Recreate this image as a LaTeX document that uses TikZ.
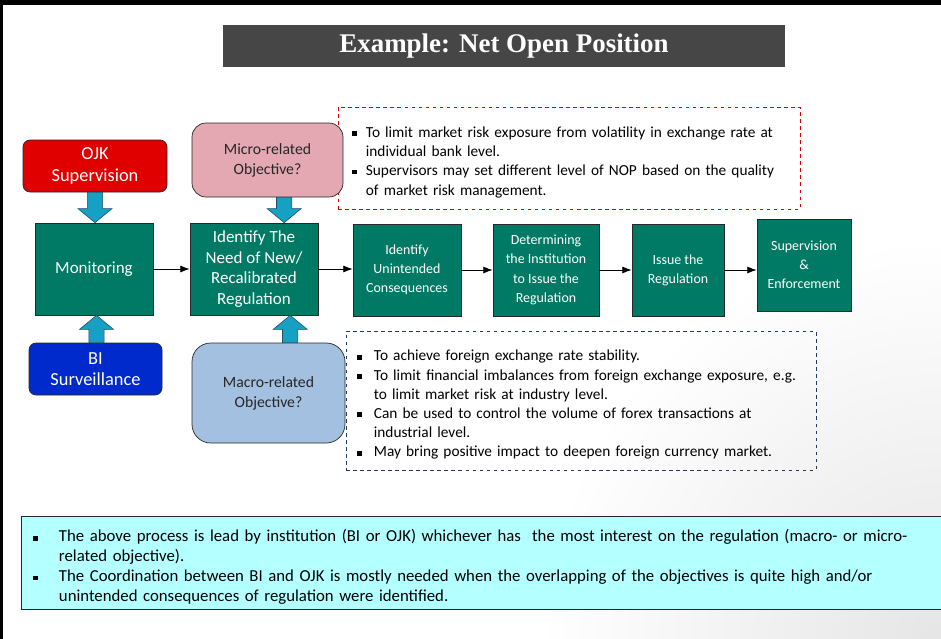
\documentclass[tikz,border=0pt]{standalone}
\usepackage{fontspec}
\setmainfont{Carlito}
\newfontfamily\titlefont{Liberation Serif}
\usepackage{tikz}
\usetikzlibrary{arrows.meta, positioning, calc}
\definecolor{mygreen}{RGB}{0,122,100}
\definecolor{myred}{RGB}{224,0,0}
\definecolor{myblue}{RGB}{0,42,204}
\definecolor{mypink}{RGB}{228,168,178}
\definecolor{mysky}{RGB}{164,192,225}
\definecolor{myteal}{RGB}{22,160,196}
\definecolor{mynavy}{RGB}{31,56,100}
\definecolor{mycyan}{RGB}{180,255,255}
\definecolor{titlegray}{RGB}{70,70,70}
\definecolor{boxedge}{RGB}{40,40,40}
\definecolor{arrowedge}{RGB}{30,80,100}
\definecolor{textdark}{RGB}{38,38,38}
\newcommand{\sqbullet}{\rule[1.2pt]{4pt}{4pt}}
\newcommand{\bitem}[2][0.42cm]{\par\hangindent=#1\hangafter=1\noindent\makebox[#1][l]{\sqbullet}#2\par}
% vertical block arrow from tail #1 to tip #2
\newcommand{\blockarrow}[2]{%
  \draw[blockarr] let \p1=(#1), \p2=(#2), \n1={sign(\y2-\y1)} in
    (\x1-0.23cm,\y1) -- (\x1-0.23cm,\y2-\n1*0.42cm) -- (\x1-0.51cm,\y2-\n1*0.42cm)
    -- (\x1,\y2) -- (\x1+0.51cm,\y2-\n1*0.42cm) -- (\x1+0.23cm,\y2-\n1*0.42cm)
    -- (\x1+0.23cm,\y1) -- cycle;}
\tikzset{
  flowbox/.style={rectangle, draw=boxedge, fill=mygreen, text=white,
    align=center, minimum height=2.76cm, line width=0.6pt,
    font=\fontsize{11.9}{16.4}\selectfont},
  bigflowbox/.style={flowbox, font=\fontsize{14.5}{17.4}\selectfont},
  agency/.style={rectangle, rounded corners=6pt, draw=boxedge, text=white,
    align=center, minimum height=1.56cm, line width=0.6pt,
    font=\fontsize{15.7}{18.3}\selectfont},
  objective/.style={rectangle, draw=boxedge, text=textdark, align=center,
    line width=0.6pt, font=\fontsize{13.4}{17}\selectfont},
  notebox/.style={rectangle, dashed, line width=0.6pt},
  notetext/.style={anchor=west, align=left, inner sep=0pt, text width=15cm,
    font=\fontsize{13.1}{16.4}\selectfont},
  arrow/.style={-{Latex[length=8pt,width=6pt]}, line width=0.6pt, color=black},
  blockarr/.style={draw=arrowedge, fill=myteal, line width=0.5pt}
}
\begin{document}
\begin{tikzpicture}
  \useasboundingbox (0,0) rectangle (28.23,-19.17);
  % --- Slide frame ---
  \shade[inner color=black!10, outer color=white] (28.23,-19.17) circle (12);
  \fill[black] (0,0) rectangle (28.23,-0.15);
  \fill[black] (0,0) rectangle (0.09,-19.17);

  % --- Title ---
  \node[fill=titlegray, text=white, minimum width=16.86cm, minimum height=1.26cm,
        font=\titlefont\bfseries\fontsize{23}{27}\selectfont] (title) at (15.12,-1.38)
        {Example: Net Open Position};

  % --- Objective notes ---
  \node[notebox, draw=myred, minimum width=13.86cm, minimum height=3.06cm]
        (micronote) at (17.07,-4.74) {};
  \node[notetext] (microtext) at ($(micronote.west)+(0.42,0)$) {%
    \bitem{To limit market risk exposure from volatility in exchange rate at\newline individual bank level.}
    \bitem{Supervisors may set different level of NOP based on the quality\newline of market risk management.}};
  \node[notebox, draw=mynavy, minimum width=14.1cm, minimum height=4.17cm]
        (macronote) at (17.43,-12.02) {};
  \node[notetext] (macrotext) at ($(macronote.west)+(0.33,0)$) {%
    \bitem[0.51cm]{To achieve foreign exchange rate stability.}
    \bitem[0.51cm]{To limit financial imbalances from foreign exchange exposure, e.g.\newline to limit market risk at industry level.}
    \bitem[0.51cm]{Can be used to control the volume of forex transactions at\newline industrial level.}
    \bitem[0.51cm]{May bring positive impact to deepen foreign currency market.}};

  % --- Sources ---
  \node[agency, fill=myred, minimum width=4.32cm] (ojk) at (2.85,-4.98) {OJK\\Supervision};
  \node[agency, fill=myblue, minimum width=3.99cm] (bi) at (2.865,-11.07) {BI\\Surveillance};
  \node[objective, fill=mypink, rounded corners=12pt, minimum width=4.53cm,
        minimum height=2.22cm] (micro) at (8.025,-4.8) {Micro-related\\Objective?};
  \node[objective, fill=mysky, rounded corners=16pt, minimum width=4.59cm,
        minimum height=3.0cm] (macro) at (8.055,-11.79) {Macro-related\\Objective?};

  % --- Process flow ---
  \node[bigflowbox, minimum width=3.54cm] (monitor) at (2.82,-8.07) {Monitoring};
  \node[bigflowbox, minimum width=3.84cm] (need) at (7.62,-8.07)
        {Identify The\\Need of New/\\Recalibrated\\Regulation};
  \node[flowbox, minimum width=3.24cm] (unint) at (12.21,-8.1)
        {Identify\\Unintended\\Consequences};
  \node[flowbox, minimum width=3.18cm] (determ) at (16.38,-8.1)
        {Determining\\the Institution\\to Issue the\\Regulation};
  \node[flowbox, minimum width=2.76cm] (issue) at (20.34,-8.1) {Issue the\\Regulation};
  \node[flowbox, minimum width=2.82cm] (enforce) at (24.12,-7.95)
        {Supervision\\\&\\Enforcement};

  \draw[arrow] (monitor) -- (need);
  \draw[arrow] (need.east) -- (need.east -| unint.west);
  \draw[arrow] (unint) -- (determ);
  \draw[arrow] (determ) -- (issue);
  \draw[arrow] (issue.east) -- (issue.east -| enforce.west);

  \coordinate (bitail) at ($(bi.north)+(0.03,0)$);
  \coordinate (microtail) at ($(micro.south)+(0.5,0)$);
  \coordinate (macrotail) at ($(macro.north)+(0.65,0)$);
  \blockarrow{ojk.south}{ojk.south |- monitor.north}
  \blockarrow{bitail}{bitail |- monitor.south}
  \blockarrow{microtail}{microtail |- need.north}
  \blockarrow{macrotail}{macrotail |- need.south}

  % --- Summary ---
  \node[rectangle, draw=boxedge, fill=mycyan, align=left, line width=0.6pt,
        minimum width=27.87cm, minimum height=2.79cm, inner xsep=0.36cm,
        inner ysep=0pt, text width=27.15cm,
        font=\fontsize{14.3}{17}\selectfont] (summary) at (14.565,-16.9) {%
    \bitem[0.78cm]{The above process is lead by institution (BI or OJK) whichever has\ \ the most interest on the regulation (macro- or micro-\newline related objective).}
    \bitem[0.78cm]{The Coordination between BI and OJK is mostly needed when the overlapping of the objectives is quite high and/or\newline unintended consequences of regulation were identified.}};
\end{tikzpicture}
\end{document}
